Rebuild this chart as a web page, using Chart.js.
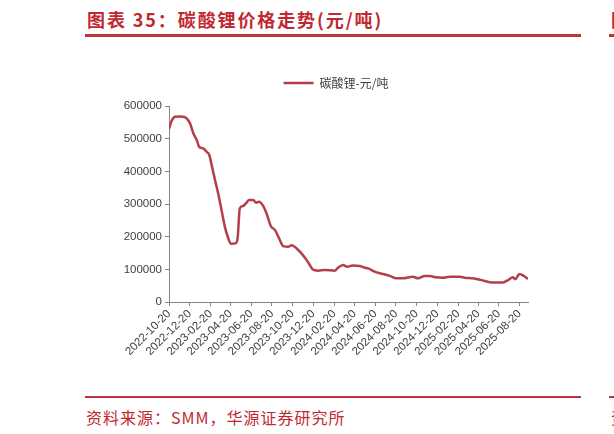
<!DOCTYPE html>
<html>
<head>
<meta charset="utf-8">
<script src="https://cdn.jsdelivr.net/npm/chart.js@4/dist/chart.umd.min.js"></script>
<style>
  html, body { margin: 0; padding: 0; background: #fff; width: 614px; height: 434px; overflow: hidden; }
  #wrap { position: relative; width: 614px; height: 434px; }
  .red { color: #C0292F; position: absolute; white-space: nowrap; }
  #title { left: 87px; top: 6px; font: bold 18px "Noto Sans CJK SC", sans-serif; letter-spacing: 1.9px; }
  #source { left: 86px; top: 405px; font: 16px "Noto Sans CJK SC", sans-serif; letter-spacing: 1px; }
  .rule { position: absolute; background: #C0353A; }
  #chartBox { position: absolute; left: 100px; top: 67px; width: 472px; height: 303px; }
</style>
</head>
<body>
<div id="wrap">
  <div id="title" class="red">图表 35：碳酸锂价格走势(元/吨)</div>
  <div class="rule" style="left:85px; top:34px; width:496px; height:3px;"></div>
  <div class="rule" style="left:609px; top:34px; width:5px; height:3px;"></div>
  <div class="red" style="left:611px; top:6px; font: bold 18px 'Noto Sans CJK SC', sans-serif;">图</div>
  <div class="rule" style="left:85px; top:396px; width:496px; height:2px;"></div>
  <div class="rule" style="left:609px; top:396px; width:5px; height:2px;"></div>
  <div id="source" class="red">资料来源：SMM，华源证券研究所</div>
  <div class="red" style="left:611px; top:405px; font: 16px 'Noto Sans CJK SC', sans-serif;">资</div>
  <div id="chartBox"><canvas id="c" width="472" height="303"></canvas></div>
</div>
<script>
const seriesName = '碳酸锂-元/吨';
const dates = [
  '2022-10-20','2022-10-28','2022-11-07','2022-11-20','2022-12-01','2022-12-11','2022-12-21','2022-12-31',
  '2023-01-10','2023-01-17','2023-01-29','2023-02-08','2023-02-16','2023-02-23','2023-03-05','2023-03-14',
  '2023-03-24','2023-04-03','2023-04-13','2023-04-21','2023-05-06','2023-05-11','2023-05-17','2023-05-27',
  '2023-06-04','2023-06-14','2023-06-26','2023-07-04','2023-07-13','2023-07-25','2023-08-04','2023-08-17',
  '2023-08-29','2023-09-10','2023-09-22','2023-10-07','2023-10-17','2023-11-01','2023-11-15','2023-11-30',
  '2023-12-10','2023-12-18','2024-01-03','2024-01-23','2024-02-22','2024-03-02','2024-03-17','2024-03-29',
  '2024-04-14','2024-05-05','2024-05-20','2024-05-30','2024-06-18','2024-07-03','2024-07-20','2024-08-02',
  '2024-08-21','2024-09-10','2024-10-09','2024-10-24','2024-11-13','2024-11-28','2024-12-17','2025-01-06',
  '2025-01-26','2025-02-24','2025-03-11','2025-04-04','2025-04-29','2025-05-29','2025-07-02','2025-07-17',
  '2025-07-31','2025-08-07','2025-08-20','2025-09-02','2025-09-14'
];
const prices = [
  530000,555000,567000,568000,567000,562000,547000,516000,
  496000,475000,470000,460000,450000,419000,373000,333000,
  282000,230000,195000,178000,180000,200000,287000,294000,
  302000,312000,312000,304000,307000,294000,271000,232000,
  220000,195000,171000,169000,174000,164000,149000,129000,
  113000,100000,96000,98000,96000,105000,113000,108000,
  112000,110000,105000,103000,93000,88000,84000,80000,
  72500,72500,77500,72500,79500,79500,75500,74500,
  77500,77500,74500,72500,67000,60000,60000,67000,
  75500,69500,86000,79500,70500
];
const tickLabels = [
  '2022-10-20','2022-12-20','2023-02-20','2023-04-20','2023-06-20','2023-08-20',
  '2023-10-20','2023-12-20','2024-02-20','2024-04-20','2024-06-20','2024-08-20',
  '2024-10-20','2024-12-20','2025-02-20','2025-04-20','2025-06-20','2025-08-20'
];
const yTicks = [0,100000,200000,300000,400000,500000,600000];

const base = Date.parse(dates[0] + 'T00:00:00Z');
const dayOf = s => Math.round((Date.parse(s + 'T00:00:00Z') - base) / 86400000);
const points = dates.map((d, i) => ({ x: dayOf(d), y: prices[i] }));
const tickDays = tickLabels.map(dayOf);

const lineColor = '#B43F48';
const axisColor = '#868686';
const tickFont = { family: '"Liberation Sans", Arial, sans-serif', size: 11.5 };

const legendFix = {
  id: 'legendFix',
  beforeInit(chart) {
    const lg = chart.legend;
    if (lg) {
      const fit = lg.fit;
      lg.fit = function () { fit.call(this); this.height = 39; };
    }
  },
  afterLayout(chart) {
    const lg = chart.legend;
    if (lg) { lg.left = 0; lg.right = chart.width; }
  }
};

new Chart(document.getElementById('c'), {
  type: 'line',
  data: {
    datasets: [{
      label: seriesName,
      data: points,
      borderColor: lineColor,
      backgroundColor: lineColor,
      borderWidth: 2.5,
      pointRadius: 0,
      cubicInterpolationMode: 'monotone',
      fill: false
    }]
  },
  options: {
    responsive: false,
    animation: false,
    devicePixelRatio: 1,
    layout: { padding: { left: 0, right: 44, top: 0, bottom: 0 } },
    plugins: {
      tooltip: { enabled: false },
      legend: {
        display: true,
        position: 'top',
        align: 'center',
        labels: {
          usePointStyle: true,
          pointStyle: 'line',
          pointStyleWidth: 30,
          boxHeight: 12,
          padding: 10,
          color: '#404040',
          font: { family: '"Noto Sans CJK SC", sans-serif', size: 12 }
        }
      }
    },
    scales: {
      x: {
        type: 'linear',
        min: 0,
        max: points[points.length - 1].x,
        afterBuildTicks(scale) { scale.ticks = tickDays.map(v => ({ value: v })); },
        afterFit(scale) { scale.height = 68; },
        grid: { drawOnChartArea: false, drawTicks: true, tickLength: 4, color: axisColor },
        border: { display: true, color: axisColor, width: 1 },
        ticks: {
          autoSkip: false,
          minRotation: 45,
          maxRotation: 45,
          padding: 1,
          color: '#404040',
          font: tickFont,
          callback(value) {
            const i = tickDays.indexOf(value);
            return i >= 0 ? tickLabels[i] : '';
          }
        }
      },
      y: {
        min: 0,
        max: 600000,
        afterBuildTicks(scale) { scale.ticks = yTicks.map(v => ({ value: v })); },
        afterFit(scale) { scale.width = 69; },
        grid: { drawOnChartArea: false, drawTicks: true, tickLength: 4, color: axisColor },
        border: { display: true, color: axisColor, width: 1 },
        ticks: {
          padding: 3,
          color: '#404040',
          font: tickFont,
          callback(value) { return String(value); }
        }
      }
    }
  },
  plugins: [legendFix]
});
</script>
</body>
</html>
